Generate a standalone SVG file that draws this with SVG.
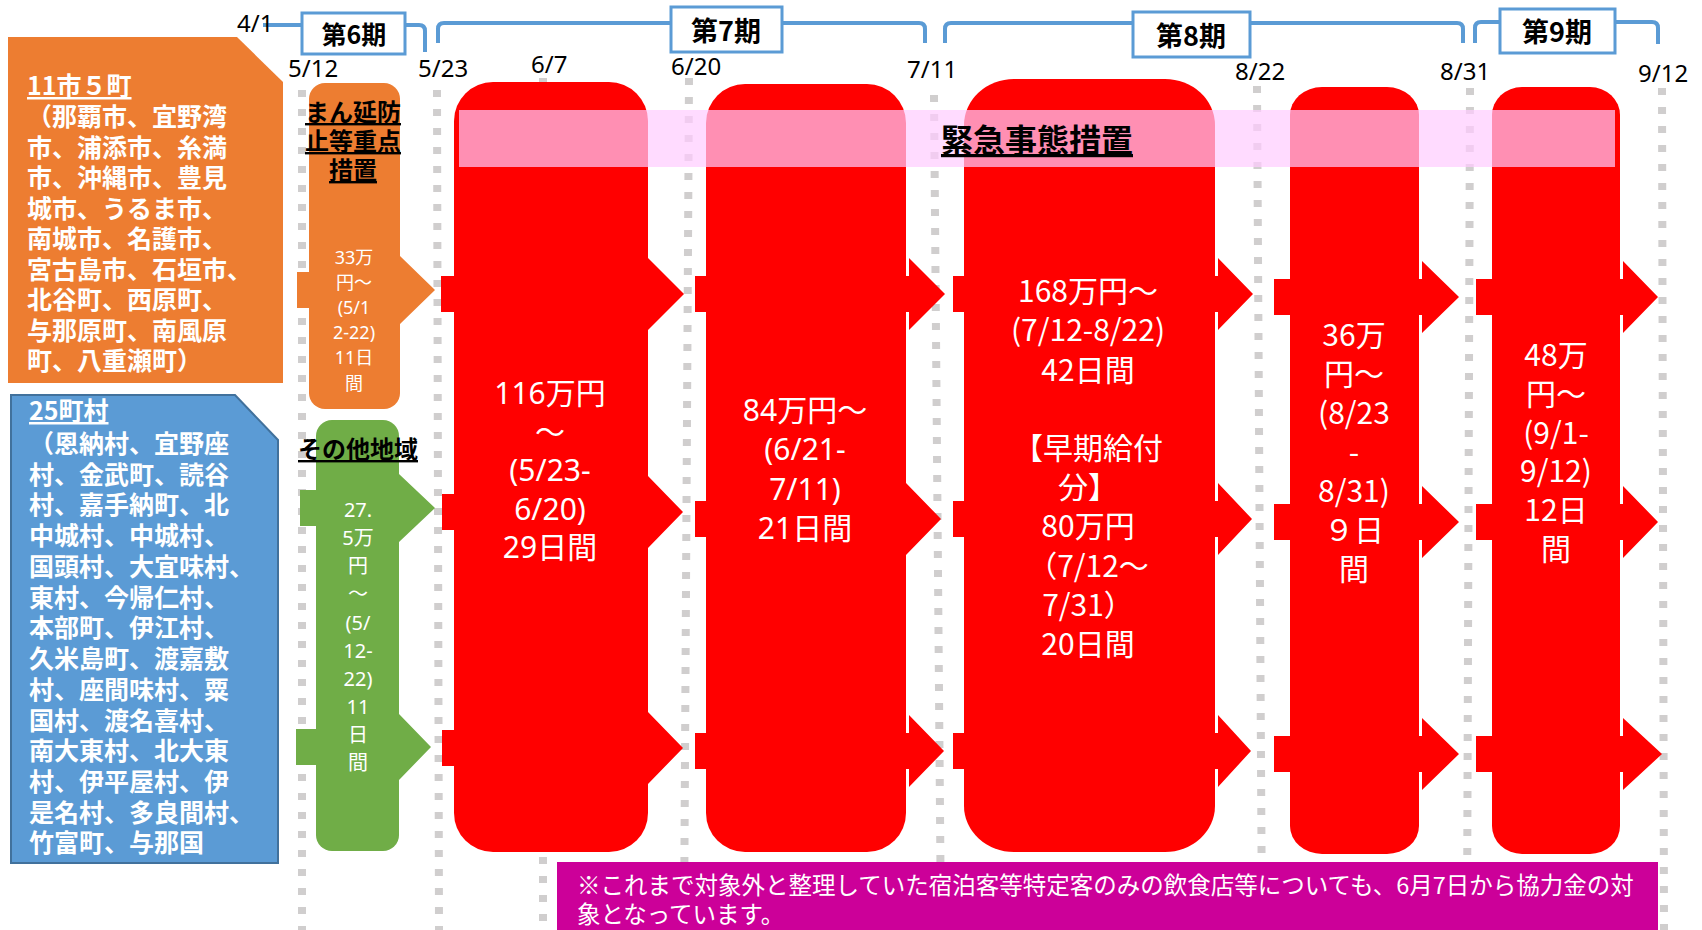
<svg xmlns="http://www.w3.org/2000/svg" width="1702" height="930" viewBox="0 0 1702 930">
<style>
.date{font-family:"Noto Sans","Noto Sans CJK JP",sans-serif;font-size:24px;fill:#000}
.per{font-family:"Noto Sans CJK JP",sans-serif;font-weight:bold;fill:#000;text-anchor:middle}
.pbox{fill:#fff;stroke:#5B9BD5;stroke-width:3}
.brk{fill:none;stroke:#5B9BD5;stroke-width:4}
.dash{stroke:#D0CECE;stroke-width:8;stroke-dasharray:7 12;fill:none}
.area{font-family:"Noto Sans CJK JP",sans-serif;font-weight:bold;font-size:25px;fill:#fff}
.ttl{font-family:"Noto Sans CJK JP",sans-serif;font-weight:bold;font-size:24px;fill:#000;text-anchor:middle;text-decoration:underline}
.red{fill:#FF0000}
.rt{font-family:"Noto Sans","Noto Sans CJK JP",sans-serif;font-size:30px;fill:#fff;text-anchor:middle}
.rt2{font-family:"Noto Sans CJK JP",sans-serif;font-size:30px;fill:#fff;text-anchor:middle}
.ot{font-family:"Noto Sans","Noto Sans CJK JP",sans-serif;font-size:18px;fill:#fff;text-anchor:middle}
.gt{font-family:"Noto Sans","Noto Sans CJK JP",sans-serif;font-size:20px;fill:#fff;text-anchor:middle}
.note{font-family:"Noto Sans CJK JP",sans-serif;font-size:23.5px;fill:#fff}
</style>

<g id="timeline">
<line class="dash" x1="302" y1="90" x2="302" y2="930"/>
<line class="dash" x1="437" y1="90" x2="439" y2="930"/>
<line class="dash" x1="543" y1="78" x2="543" y2="930"/>
<line class="dash" x1="689" y1="78" x2="684" y2="930"/>
<line class="dash" x1="934" y1="95" x2="941" y2="930"/>
<line class="dash" x1="1257" y1="86" x2="1262" y2="930"/>
<line class="dash" x1="1470" y1="88" x2="1467" y2="930"/>
<line class="dash" x1="1662" y1="88" x2="1664" y2="930"/>
</g>

<g id="note">
<rect x="557" y="862" width="1101" height="68" fill="#CC0099"/>
<text class="note"><tspan x="577" y="894">※これまで対象外と整理していた宿泊客等特定客のみの飲食店等についても、6月7日から協力金の対</tspan><tspan x="577" y="923">象となっています。</tspan></text>
</g>

<g id="connectors">
<path class="brk" d="M263,25 H302 M405,25 H419 Q425,25 425,31 V52"/>
<path class="brk" d="M438,43 V29 Q438,23 444,23 H671 M782,23 H919 Q925,23 925,29 V43"/>
<path class="brk" d="M945,43 V29 Q945,23 951,23 H1133 M1250,23 H1457 Q1463,23 1463,29 V43"/>
<path class="brk" d="M1475,43 V28 Q1475,22 1481,22 H1500 M1615,22 H1652 Q1658,22 1658,28 V44"/>
</g>

<g id="dates">
<text class="date" x="237" y="32">4/1</text>
<text class="date" x="288" y="77">5/12</text>
<text class="date" x="418" y="77">5/23</text>
<text class="date" x="531" y="73">6/7</text>
<text class="date" x="671" y="75">6/20</text>
<text class="date" x="907" y="78">7/11</text>
<text class="date" x="1235" y="80">8/22</text>
<text class="date" x="1440" y="80">8/31</text>
<text class="date" x="1638" y="82">9/12</text>
</g>

<g id="period6">
<rect class="pbox" x="302" y="13" width="103" height="41"/>
<text class="per" x="354" y="44" font-size="25">第6期</text>
</g>
<g id="period7">
<rect class="pbox" x="671" y="7" width="111" height="45"/>
<text class="per" x="726" y="41" font-size="27">第7期</text>
</g>
<g id="period8">
<rect class="pbox" x="1133" y="12" width="117" height="45"/>
<text class="per" x="1191" y="46" font-size="27">第8期</text>
</g>
<g id="period9">
<rect class="pbox" x="1500" y="9" width="115" height="44"/>
<text class="per" x="1557" y="42" font-size="27">第9期</text>
</g>

<g id="area-cities">
<polygon points="8,37 237,37 283,82 283,383 8,383" fill="#ED7D31"/>
<text class="area" x="27" y="95" text-decoration="underline">11市５町</text>
<text class="area"><tspan x="27" y="126">（那覇市、宜野湾</tspan><tspan x="27" y="156.5">市、浦添市、糸満</tspan><tspan x="27" y="187">市、沖縄市、豊見</tspan><tspan x="27" y="217.5">城市、うるま市、</tspan><tspan x="27" y="248">南城市、名護市、</tspan><tspan x="27" y="278.5">宮古島市、石垣市、</tspan><tspan x="27" y="309">北谷町、西原町、</tspan><tspan x="27" y="339.5">与那原町、南風原</tspan><tspan x="27" y="370">町、八重瀬町）</tspan></text>
</g>

<g id="area-villages">
<polygon points="11,395 235,395 278,440 278,863 11,863" fill="#5B9BD5" stroke="#41719C" stroke-width="2"/>
<text class="area" x="29" y="420" text-decoration="underline">25町村</text>
<text class="area"><tspan x="29" y="453">（恩納村、宜野座</tspan><tspan x="29" y="483.7">村、金武町、読谷</tspan><tspan x="29" y="514.4">村、嘉手納町、北</tspan><tspan x="29" y="545.2">中城村、中城村、</tspan><tspan x="29" y="575.9">国頭村、大宜味村、</tspan><tspan x="29" y="606.6">東村、今帰仁村、</tspan><tspan x="29" y="637.3">本部町、伊江村、</tspan><tspan x="29" y="668">久米島町、渡嘉敷</tspan><tspan x="29" y="698.8">村、座間味村、粟</tspan><tspan x="29" y="729.5">国村、渡名喜村、</tspan><tspan x="29" y="760.2">南大東村、北大東</tspan><tspan x="29" y="790.9">村、伊平屋村、伊</tspan><tspan x="29" y="821.6">是名村、多良間村、</tspan><tspan x="29" y="852.3">竹富町、与那国</tspan></text>
</g>

<g id="phase6-priority">
<rect x="309" y="83" width="91" height="326" rx="16" fill="#ED7D31"/>
<polygon points="297,272 400,272 400,256 435,290 400,324 400,308 297,308" fill="#ED7D31"/>
<text class="ttl"><tspan x="353" y="121">まん延防</tspan><tspan x="353" y="150">止等重点</tspan><tspan x="353" y="179">措置</tspan></text>
<text class="ot"><tspan x="354" y="263.5">33万</tspan><tspan x="354" y="288.7">円～</tspan><tspan x="354" y="314">(5/1</tspan><tspan x="354" y="339.2">2-22)</tspan><tspan x="354" y="364.4">11日</tspan><tspan x="354" y="389.6">間</tspan></text>
</g>

<g id="phase6-other">
<rect x="316" y="420" width="83" height="431" rx="16" fill="#70AD47"/>
<polygon points="300,490 399,490 399,474 435,508 399,542 399,526 300,526" fill="#70AD47"/>
<polygon points="296,729 399,729 399,714 431,747 399,780 399,765 296,765" fill="#70AD47"/>
<text class="ttl" x="358" y="458">その他地域</text>
<text class="gt"><tspan x="358" y="517">27.</tspan><tspan x="358" y="545">5万</tspan><tspan x="358" y="573">円</tspan><tspan x="358" y="601">～</tspan><tspan x="358" y="630">(5/</tspan><tspan x="358" y="658">12-</tspan><tspan x="358" y="686">22)</tspan><tspan x="358" y="714">11</tspan><tspan x="358" y="742">日</tspan><tspan x="358" y="770">間</tspan></text>
</g>

<g id="phase7a">
<rect class="red" x="454" y="82" width="194" height="770" rx="39"/>
<polygon class="red" points="441,276 648,276 648,258 684,294 648,330 648,312 441,312"/>
<polygon class="red" points="442,494 648,494 648,476 683,512 648,548 648,530 442,530"/>
<polygon class="red" points="442,730 648,730 648,712 683,748 648,784 648,766 442,766"/>
</g>

<g id="phase7b">
<rect class="red" x="706" y="84" width="200" height="768" rx="39"/>
<polygon class="red" points="695,276 909,276 909,258 945,294 909,330 909,312 695,312"/>
<polygon class="red" points="695,501 906,501 906,483 941,519 906,555 906,537 695,537"/>
<polygon class="red" points="695,733 909,733 909,715 944,751 909,787 909,769 695,769"/>
</g>

<g id="phase8">
<rect class="red" x="964" y="79" width="251" height="773" rx="50" ry="46"/>
<polygon class="red" points="953,276 1218,276 1218,258 1253,294 1218,330 1218,312 953,312"/>
<polygon class="red" points="953,501 1218,501 1218,483 1252,519 1218,555 1218,537 953,537"/>
<polygon class="red" points="953,733 1218,733 1218,715 1251,751 1218,787 1218,769 953,769"/>
</g>

<g id="phase8b">
<rect class="red" x="1290" y="87" width="129" height="767" rx="32" ry="28"/>
<polygon class="red" points="1274,279 1422,279 1422,261 1459,297 1422,333 1422,315 1274,315"/>
<polygon class="red" points="1274,504 1422,504 1422,486 1459,522 1422,558 1422,540 1274,540"/>
<polygon class="red" points="1274,736 1422,736 1422,718 1459,754 1422,790 1422,772 1274,772"/>
</g>

<g id="phase9">
<rect class="red" x="1492" y="87" width="128" height="767" rx="30" ry="28"/>
<polygon class="red" points="1476,279 1623,279 1623,261 1658,297 1623,333 1623,315 1476,315"/>
<polygon class="red" points="1476,504 1623,504 1623,486 1658,522 1623,558 1623,540 1476,540"/>
<polygon class="red" points="1476,736 1623,736 1623,718 1662,754 1623,790 1623,772 1476,772"/>
</g>

<g id="emergency">
<rect x="459" y="110" width="1156" height="57" fill="#FFCCFF" fill-opacity="0.7"/>
<text x="1037" y="152" font-family="'Noto Sans CJK JP',sans-serif" font-weight="bold" font-size="32" fill="#000" text-anchor="middle" text-decoration="underline">緊急事態措置</text>
</g>

<g id="texts-red">
<text class="rt"><tspan x="550" y="404">116万円</tspan><tspan x="550" y="442.5">～</tspan><tspan x="550" y="481">(5/23-</tspan><tspan x="550" y="519.5">6/20)</tspan><tspan x="550" y="558">29日間</tspan></text>
<text class="rt"><tspan x="805" y="421">84万円～</tspan><tspan x="805" y="460">(6/21-</tspan><tspan x="805" y="499.5">7/11)</tspan><tspan x="805" y="539">21日間</tspan></text>
<text class="rt2"><tspan x="1088" y="302">168万円～</tspan><tspan x="1088" y="341">(7/12-8/22)</tspan><tspan x="1088" y="380.5">42日間</tspan><tspan x="1088" y="459">【早期給付</tspan><tspan x="1088" y="498">分】</tspan><tspan x="1088" y="537">80万円</tspan><tspan x="1088" y="576.5">（7/12～</tspan><tspan x="1088" y="615.5">7/31）</tspan><tspan x="1088" y="655">20日間</tspan></text>
<text class="rt2"><tspan x="1354" y="346">36万</tspan><tspan x="1354" y="385">円～</tspan><tspan x="1354" y="424">(8/23</tspan><tspan x="1354" y="463">-</tspan><tspan x="1354" y="502">8/31)</tspan><tspan x="1354" y="541">９日</tspan><tspan x="1354" y="580">間</tspan></text>
<text class="rt2"><tspan x="1556" y="366">48万</tspan><tspan x="1556" y="405">円～</tspan><tspan x="1556" y="443.5">(9/1-</tspan><tspan x="1556" y="482">9/12)</tspan><tspan x="1556" y="521">12日</tspan><tspan x="1556" y="560">間</tspan></text>
</g>
</svg>
